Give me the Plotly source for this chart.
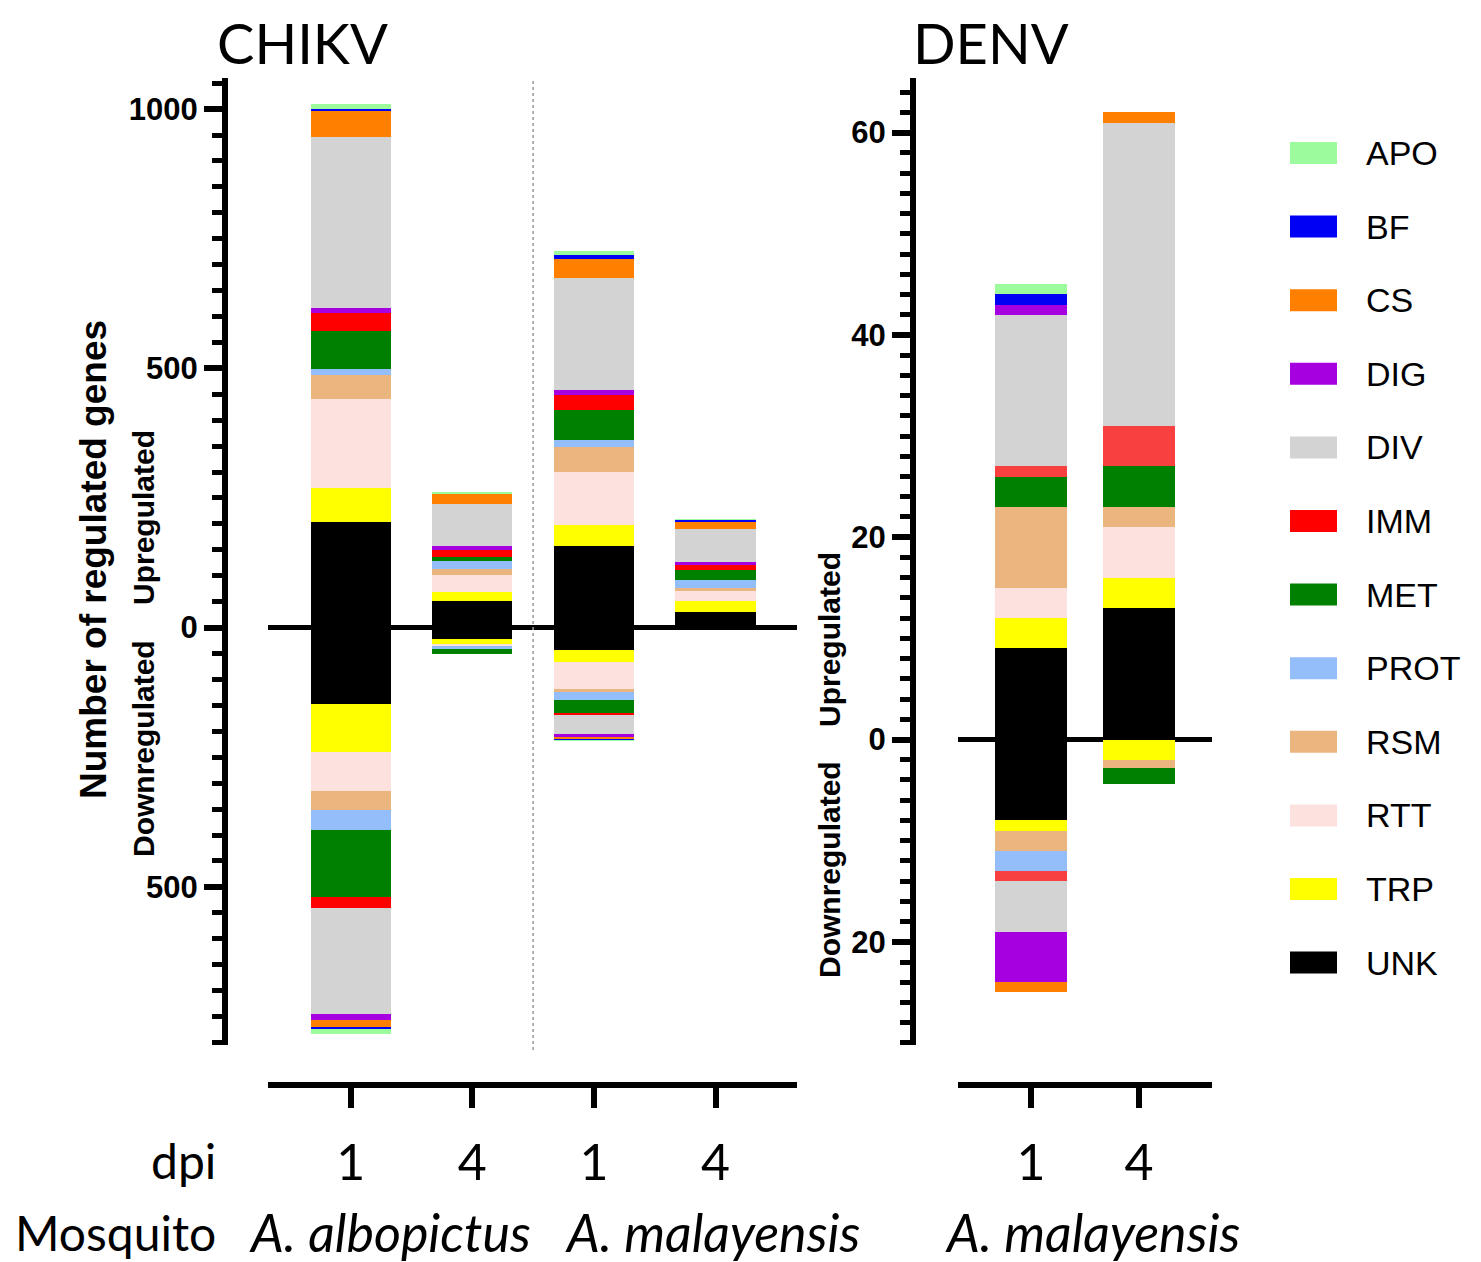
import plotly.graph_objects as go

W, H = 1481, 1262
OX, OY = 8, 8   # page body margin offset of the figure

# ---------------- data ----------------
categories = ["APO", "BF", "CS", "DIG", "DIV", "IMM", "MET", "PROT", "RSM", "RTT", "TRP", "UNK"]
cat_colors = ["#9CFB9C", "#0000F5", "#FF8000", "#A600E0", "#D3D3D3", "#FF0000",
              "#008000", "#94BEFA", "#EBB57F", "#FCE1DF", "#FFFF00", "#000000"]
denv_color_override = {"IMM": "#F94040"}

# stacking order away from zero
chikv_up_order = ["UNK", "TRP", "RTT", "RSM", "PROT", "MET", "IMM", "DIG", "DIV", "CS", "BF", "APO"]
chikv_down_order = ["UNK", "TRP", "RTT", "RSM", "PROT", "MET", "IMM", "DIV", "DIG", "CS", "BF", "APO"]
denv_order = ["UNK", "TRP", "RTT", "RSM", "PROT", "MET", "IMM", "DIV", "DIG", "CS", "BF", "APO"]

# CHIKV: A. albopictus 1 dpi, 4 dpi, A. malayensis 1 dpi, 4 dpi
chikv_dpi = ["1", "4", "1", "4"]
chikv_up = {
    "UNK": [203, 52, 158, 30],
    "TRP": [66, 17, 39, 22],
    "RTT": [171, 33, 104, 19],
    "RSM": [48, 12, 47, 6],
    "PROT": [11, 15, 13, 14],
    "MET": [73, 8, 58, 20],
    "IMM": [35, 12, 29, 10],
    "DIG": [9, 8, 11, 5],
    "DIV": [330, 82, 216, 65],
    "CS": [50, 19, 36, 13],
    "BF": [4, 1, 8, 4],
    "APO": [9, 1, 7, 1],
}
chikv_down = {
    "UNK": [147, 21, 44, 0],
    "TRP": [92, 10, 22, 0],
    "RTT": [77, 5, 52, 0],
    "RSM": [36, 0, 7, 0],
    "PROT": [38, 6, 14, 0],
    "MET": [129, 8, 25, 0],
    "IMM": [22, 0, 5, 0],
    "DIV": [204, 0, 37, 0],
    "DIG": [12, 0, 5, 0],
    "CS": [13, 0, 5, 0],
    "BF": [4, 0, 1, 0],
    "APO": [10, 0, 1, 0],
}

# DENV: A. malayensis 1 dpi, 4 dpi
denv_dpi = ["1", "4"]
denv_up = {
    "UNK": [9, 13],
    "TRP": [3, 3],
    "RTT": [3, 5],
    "RSM": [8, 2],
    "PROT": [0, 0],
    "MET": [3, 4],
    "IMM": [1, 4],
    "DIV": [15, 30],
    "DIG": [1, 0],
    "CS": [0, 1],
    "BF": [1, 0],
    "APO": [1, 0],
}
denv_down = {
    "UNK": [8, 0],
    "TRP": [1, 2],
    "RTT": [0, 0],
    "RSM": [2, 0.8],
    "PROT": [2, 0],
    "MET": [0, 1.6],
    "IMM": [1, 0],
    "DIV": [5, 0],
    "DIG": [5, 0],
    "CS": [1, 0],
    "BF": [0, 0],
    "APO": [0, 0],
}

chikv_yticks = [-500, 0, 500, 1000]
denv_yticks = [-20, 0, 20, 40, 60]

# ---------------- helpers ----------------
def px(x):
    return (x - OX) / W


def py(y):
    return 1 - (y - OY) / H


color_of = dict(zip(categories, cat_colors))

fig = go.Figure()

def add_stack(xs, data, order, sign, xa, ya, width, override=None):
    for cat in order:
        col = color_of[cat]
        if override and cat in override:
            col = override[cat]
        fig.add_trace(go.Bar(
            x=xs, y=[sign * v for v in data[cat]], name=cat,
            marker=dict(color=col, line=dict(width=0)),
            width=width, xaxis=xa, yaxis=ya, showlegend=False,
        ))

chikv_x = list(range(len(chikv_dpi)))
denv_x = list(range(len(denv_dpi)))
add_stack(chikv_x, chikv_up, chikv_up_order, 1, "x", "y", 0.66)
add_stack(chikv_x, chikv_down, chikv_down_order, -1, "x", "y", 0.66)
add_stack(denv_x, denv_up, denv_order, 1, "x2", "y2", 0.67, denv_color_override)
add_stack(denv_x, denv_down, denv_order, -1, "x2", "y2", 0.67, denv_color_override)

ydom = [py(1045), py(78)]
tickfont = dict(family="Liberation Sans", size=31, color="black", weight="bold")
xtickfont = dict(family="Lato", size=50, color="black")

common_y = dict(
    domain=ydom, anchor="free", showline=True, linewidth=6, linecolor="black",
    ticks="outside", ticklen=18, tickwidth=6, tickcolor="black",
    showgrid=False, zeroline=True, zerolinewidth=5, zerolinecolor="black",
    tickfont=tickfont, automargin=False, fixedrange=True,
)
common_x = dict(
    anchor="free", position=py(1085), showline=True, linewidth=6, linecolor="black",
    ticks="outside", ticklen=20, tickwidth=6, tickcolor="black", showgrid=False,
    zeroline=False, tickfont=xtickfont, automargin=False, ticklabelstandoff=12,
    fixedrange=True,
)

fig.update_layout(
    width=W, height=H,
    margin=dict(l=0, r=0, t=0, b=0),
    paper_bgcolor="white", plot_bgcolor="rgba(0,0,0,0)",
    barmode="relative", bargap=0, showlegend=False,
    xaxis=dict(common_x, domain=[px(268), px(797)], range=[-0.68, 3.67],
               tickvals=chikv_x, ticktext=chikv_dpi),
    yaxis=dict(common_y, position=px(225), range=[-805, 1060],
               tickvals=chikv_yticks, ticktext=[str(abs(v)) for v in chikv_yticks],
               minor=dict(dtick=50, tick0=0, ticks="outside", ticklen=10,
                          tickwidth=5, tickcolor="black")),
    xaxis2=dict(common_x, domain=[px(958), px(1212)], range=[-0.676, 1.676],
                tickvals=denv_x, ticktext=denv_dpi),
    yaxis2=dict(common_y, position=px(913), range=[-30.2, 65.4],
                tickvals=denv_yticks, ticktext=[str(abs(v)) for v in denv_yticks],
                minor=dict(dtick=2, tick0=0, ticks="outside", ticklen=10,
                           tickwidth=5, tickcolor="black")),
)

shapes = []
# dotted separator between mosquito species (CHIKV panel)
shapes.append(dict(type="line", xref="x", yref="paper", x0=1.5, x1=1.5,
                   y0=py(1050), y1=py(78), line=dict(color="#9a9a9a", width=1.5, dash="dot")))

annotations = []
def ann(text, x, y, size, family="Lato", angle=0, xanchor="center", italic=False, bold=False):
    t = text
    if bold:
        t = "<b>" + t + "</b>"
    if italic:
        t = "<i>" + t + "</i>"
    annotations.append(dict(text=t, x=px(x), y=py(y), xref="paper", yref="paper",
                            showarrow=False, textangle=angle, xanchor=xanchor, yanchor="middle",
                            font=dict(family=family, size=size, color="black")))

ann("CHIKV", 302, 42, 56)
ann("DENV", 991, 42, 56)
ann("Number of regulated genes", 93, 560, 37, family="Liberation Sans", angle=-90, bold=True)
ann("Upregulated", 143, 518, 30, family="Liberation Sans", angle=-90, bold=True)
ann("Downregulated", 143, 749, 30, family="Liberation Sans", angle=-90, bold=True)
ann("Upregulated", 829, 640, 30, family="Liberation Sans", angle=-90, bold=True)
ann("Downregulated", 829, 870, 30, family="Liberation Sans", angle=-90, bold=True)
ann("dpi", 183, 1160, 48)
ann("Mosquito", 115, 1232, 48)
ann("A. albopictus", 390, 1232, 52, italic=True)
ann("A. malayensis", 712, 1232, 52, italic=True)
ann("A. malayensis", 1092, 1232, 52, italic=True)

# manual legend
leg_top, leg_step = 153, 73.6
for i, (cat, col) in enumerate(zip(categories, cat_colors)):
    yc = leg_top + i * leg_step
    shapes.append(dict(type="rect", xref="paper", yref="paper",
                       x0=px(1290), x1=px(1337), y0=py(yc + 11), y1=py(yc - 11),
                       fillcolor=col, line=dict(width=0)))
    annotations.append(dict(text=cat, x=px(1364), y=py(yc), xref="paper", yref="paper",
                            showarrow=False, xanchor="left", yanchor="middle",
                            font=dict(family="Liberation Sans", size=34, color="black")))

fig.update_layout(shapes=shapes, annotations=annotations)

fig.write_html("out.html")
